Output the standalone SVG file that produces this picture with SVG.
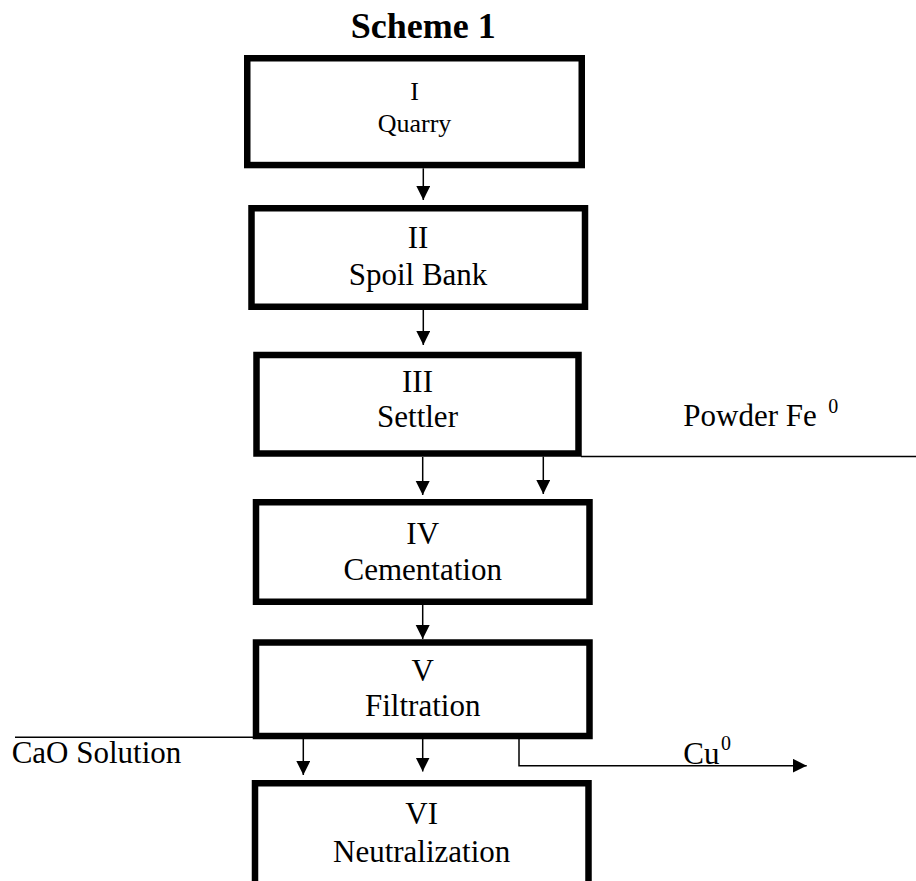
<svg xmlns="http://www.w3.org/2000/svg" width="916" height="881" viewBox="0 0 916 881">
<defs>
<marker id="ah" markerUnits="userSpaceOnUse" markerWidth="15" markerHeight="15" refX="14" refY="7" orient="auto">
<path d="M0,0 L14,7 L0,14 z" fill="#000"/>
</marker>
<style>
.box{fill:#fff;stroke:#000;stroke-width:6.5}
.t{font-family:"Liberation Serif","Times New Roman",serif;font-size:31px;fill:#000}
.tc{text-anchor:middle}
.sm{font-size:26px}
.sup{font-size:20px}
.ln{fill:none;stroke:#000;stroke-width:1.5}
.ar{fill:none;stroke:#000;stroke-width:1.5;marker-end:url(#ah)}
</style>
</defs>
<rect width="916" height="881" fill="#fff"/>
<text x="423.3" y="37.5" class="t tc" font-family="Liberation Serif, serif" style="font-size:36px;font-weight:bold">Scheme 1</text>

<g id="connectors">
<line class="ar" x1="423.3" y1="168.3" x2="423.3" y2="200"/>
<line class="ar" x1="423.3" y1="310" x2="423.3" y2="345"/>
<line class="ln" x1="581" y1="456.5" x2="916" y2="456.5"/>
<line class="ar" x1="422.7" y1="457" x2="422.7" y2="495"/>
<line class="ar" x1="543.3" y1="456.5" x2="543.3" y2="494"/>
<line class="ar" x1="422.7" y1="605" x2="422.7" y2="639"/>
<line class="ln" x1="15" y1="737.3" x2="253" y2="737.3"/>
<line class="ar" x1="303.3" y1="739" x2="303.3" y2="775"/>
<line class="ar" x1="422.7" y1="739" x2="422.7" y2="771.5"/>
<polyline class="ar" points="519,739 519,765.7 806.7,765.7"/>
</g>

<g id="labels">
<text x="683.3" y="426" class="t">Powder Fe</text>
<text x="828.3" y="413" class="t sup">0</text>
<text x="11.7" y="763.3" class="t">CaO Solution</text>
<text x="683.3" y="764" class="t">Cu</text>
<text x="721" y="750" class="t sup">0</text>
</g>

<g id="node-I">
<rect class="box" x="247.25" y="58.25" width="334.5" height="106.8"/>
<text x="414.5" y="100" class="t tc sm">I</text>
<text x="414.5" y="131.7" class="t tc sm">Quarry</text>
</g>

<g id="node-II">
<rect class="box" x="251.5" y="208.25" width="333.5" height="98.5"/>
<text x="418" y="248.3" class="t tc">II</text>
<text x="418" y="285" class="t tc">Spoil Bank</text>
</g>

<g id="node-III">
<rect class="box" x="256.5" y="355" width="322" height="98.5"/>
<text x="417.5" y="392" class="t tc">III</text>
<text x="417.5" y="427" class="t tc">Settler</text>
</g>

<g id="node-IV">
<rect class="box" x="256" y="502.25" width="333.5" height="99.5"/>
<text x="422.7" y="544" class="t tc">IV</text>
<text x="422.7" y="580" class="t tc">Cementation</text>
</g>

<g id="node-V">
<rect class="box" x="256" y="642.5" width="333.5" height="93.5"/>
<text x="422.7" y="681" class="t tc">V</text>
<text x="422.7" y="716" class="t tc">Filtration</text>
</g>

<g id="node-VI">
<rect class="box" x="255" y="783.25" width="333.5" height="130"/>
<text x="421.7" y="824" class="t tc">VI</text>
<text x="421.7" y="861.7" class="t tc">Neutralization</text>
</g>
</svg>
